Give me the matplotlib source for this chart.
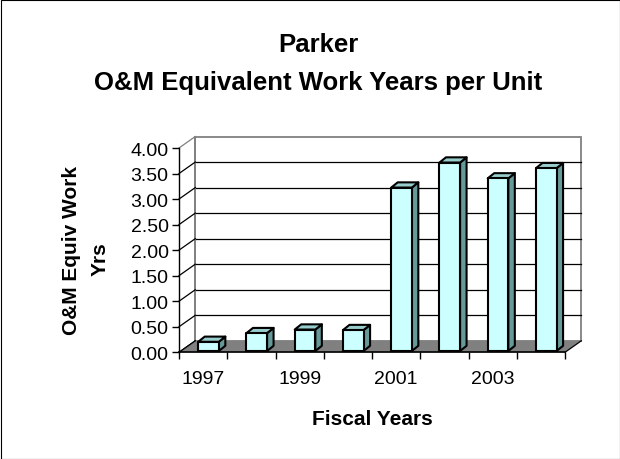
import numpy as np
import matplotlib
matplotlib.use("Agg")
import matplotlib.pyplot as plt
from matplotlib.patches import Polygon, Rectangle

plt.rcParams['font.family'] = ['Liberation Sans', 'DejaVu Sans']

# ---------------- data ----------------
years = ["1997", "1998", "1999", "2000", "2001", "2002", "2003", "2004"]
values = [0.18, 0.35, 0.42, 0.41, 3.20, 3.69, 3.38, 3.58]
shown_year_labels = ["1997", "1999", "2001", "2003"]
y_ticks = [0.0, 0.5, 1.0, 1.5, 2.0, 2.5, 3.0, 3.5, 4.0]
title_lines = ["Parker", "O&M Equivalent Work Years per Unit"]
ylabel_lines = ["O&M Equiv Work", "Yrs"]
xlabel = "Fiscal Years"

# ---------------- figure ----------------
W, H = 620, 460
fig = plt.figure(figsize=(W / 100, H / 100), dpi=100)
fig.patch.set_facecolor("white")
fig.add_artist(Rectangle((0.5 / W, 0.5 / H), (W - 1) / W, (H - 1) / H,
                         transform=fig.transFigure, fill=False,
                         ec="black", lw=0.8))

# front plane of the 3-D box (pixel geometry)
x_left, x_right = 179, 565
y_bot, y_top = 353.3, 149
ax = fig.add_axes([x_left / W, 1 - y_bot / H,
                   (x_right - x_left) / W, (y_bot - y_top) / H])
n = len(years)
ax.set_xlim(-0.5, n - 0.5)
ax.set_ylim(0, 4)
ax.patch.set_visible(False)
for s in ["top", "right"]:
    ax.spines[s].set_visible(False)
ax.spines["left"].set_linewidth(1.0)
ax.spines["bottom"].set_linewidth(1.2)
ax.spines["left"].set_zorder(6)
ax.spines["bottom"].set_zorder(6)

# pixels per data unit -> convert pixel depth offsets to data units
p0 = ax.transData.transform((0, 0))
p1 = ax.transData.transform((1, 1))
pxx, pxy = p1[0] - p0[0], p1[1] - p0[1]
def d(dx_px, dy_px):
    return dx_px / pxx, dy_px / pxy

DDX, DDY = d(16.3, 11.5)          # full depth of the box
OX, OY = d(5.4, 1.3)              # front face of bars
BX, BY = d(6.5, 5.2)              # depth of bars

xmin, xmax = -0.5, n - 0.5
# back wall
ax.add_patch(Rectangle((xmin + DDX, DDY), xmax - xmin, 4, fc="white",
                       ec="#808080", lw=1.3, zorder=0.5, clip_on=False))
# gridlines on back wall and left wall
for yv in y_ticks:
    if yv in (0.0, 4.0):
        continue
    ax.plot([xmin + DDX, xmax + DDX], [yv + DDY, yv + DDY], color="black",
            lw=0.9, zorder=0.8, clip_on=False)
for yv in y_ticks:
    col = "#808080" if yv == 4.0 else "black"
    ax.plot([xmin, xmin + DDX], [yv, yv + DDY], color=col, lw=0.9,
            zorder=0.9, clip_on=False)
# left wall back edge
ax.plot([xmin + DDX, xmin + DDX], [DDY, 4 + DDY], color="#808080", lw=1.3,
        zorder=0.85, clip_on=False)
# floor
ax.add_patch(Polygon([(xmin, 0), (xmax, 0), (xmax + DDX, DDY), (xmin + DDX, DDY)],
                     closed=True, fc="#808080", ec="none", zorder=1, clip_on=False))
ax.plot([xmax, xmax + DDX], [0, DDY], color="black", lw=0.9, zorder=1.1,
        clip_on=False)
ax.plot([xmin, xmin + DDX], [0, DDY], color="black", lw=0.9, zorder=1.1,
        clip_on=False)

# bars
bw = 0.427
front_c, top_c, side_c = "#CCFFFF", "#99CCCC", "#669999"
for i, v in enumerate(values):
    xl = i - bw / 2 + OX
    xr = i + bw / 2 + OX
    yb = OY
    yt = OY + v
    kw = dict(ec="black", lw=1.5, joinstyle="round", clip_on=False, zorder=3)
    ax.add_patch(Polygon([(xr, yb), (xr + BX, yb + BY), (xr + BX, yt + BY), (xr, yt)],
                         closed=True, fc=side_c, **kw))
    ax.add_patch(Polygon([(xl, yt), (xr, yt), (xr + BX, yt + BY), (xl + BX, yt + BY)],
                         closed=True, fc=top_c, **kw))
    ax.add_patch(Rectangle((xl, yb), bw, v, fc=front_c, **kw))

# y axis ticks
ax.set_yticks(y_ticks)
ax.set_yticklabels([f"{t:.2f}" for t in y_ticks])
ax.tick_params(axis="y", direction="out", length=5, width=1, pad=2.5,
               labelsize=14, colors="black")
# x axis ticks: boundaries as major ticks, labels as minor
ax.set_xticks(np.arange(-0.5, n, 1.0))
ax.set_xticklabels([])
ax.tick_params(axis="x", which="major", direction="out", length=5, width=1)
label_pos = [years.index(y) for y in shown_year_labels]
ax.set_xticks(label_pos, minor=True)
ax.set_xticklabels(shown_year_labels, minor=True)
ax.tick_params(axis="x", which="minor", length=0, pad=12.5, labelsize=14)

# texts
fig.text(318 / W, 1 - 51.7 / H, title_lines[0], ha="center", va="baseline",
         fontsize=18.5, fontweight="bold")
fig.text(318 / W, 1 - 90 / H, title_lines[1], ha="center", va="baseline",
         fontsize=18.5, fontweight="bold")
fig.text(71.5 / W, 1 - 251 / H, ylabel_lines[0], ha="center", va="center",
         rotation=90, fontsize=15, fontweight="bold")
fig.text(100.5 / W, 1 - 259 / H, ylabel_lines[1], ha="center", va="center",
         rotation=90, fontsize=15, fontweight="bold")
fig.text(372 / W, 1 - 425 / H, xlabel, ha="center", va="baseline",
         fontsize=15, fontweight="bold")

fig.savefig("out.png", dpi=100, facecolor="white")
